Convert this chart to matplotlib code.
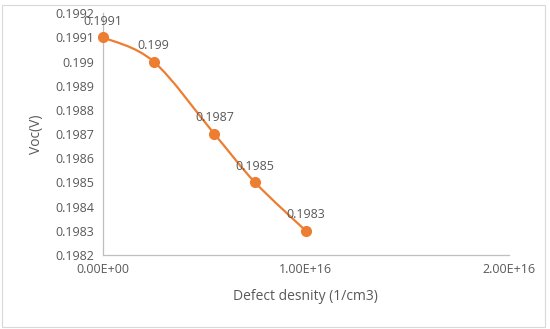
import matplotlib.pyplot as plt
from matplotlib.path import Path
from matplotlib.patches import PathPatch, Rectangle
from matplotlib.ticker import FuncFormatter
import numpy as np

defect = [0.0, 2.5e15, 5.5e15, 7.5e15, 1.0e16]
voc = [0.1991, 0.1990, 0.1987, 0.1985, 0.1983]
voc_labels = ['0.1991', '0.199', '0.1987', '0.1985', '0.1983']

orange = '#ED7D31'
grey_txt = '#595959'

plt.rcParams['font.family'] = ['Open Sans', 'DejaVu Sans']

fig = plt.figure(figsize=(5.5, 3.29), dpi=100)
ax = fig.add_axes([0.187, 0.225, 0.738, 0.735])

# Excel-style smoothed line: cubic bezier segments (Catmull-Rom tangents)
x = np.array(defect)
y = np.array(voc)
verts = [(x[0], y[0])]
codes = [Path.MOVETO]
n = len(x)
for i in range(n - 1):
    p0 = np.array([x[max(i - 1, 0)], y[max(i - 1, 0)]])
    p1 = np.array([x[i], y[i]])
    p2 = np.array([x[i + 1], y[i + 1]])
    p3 = np.array([x[min(i + 2, n - 1)], y[min(i + 2, n - 1)]])
    c1 = p1 + (p2 - p0) / 6
    c2 = p2 - (p3 - p1) / 6
    verts += [tuple(c1), tuple(c2), tuple(p2)]
    codes += [Path.CURVE4] * 3
ax.add_patch(PathPatch(Path(verts, codes), facecolor='none', edgecolor=orange, lw=1.6))

ax.plot(defect, voc, 'o', color=orange, markersize=7, zorder=3, clip_on=False)

for xi, yi, lab in zip(defect, voc, voc_labels):
    ax.annotate(lab, (xi, yi), xytext=(0, 7), textcoords='offset points',
                ha='center', va='bottom', fontsize=9, color=grey_txt)

ax.set_xlim(0, 2e16)
ax.set_ylim(0.1982, 0.1992)
ax.set_xticks([0, 1e16, 2e16])
ax.set_yticks(np.arange(0.1982, 0.19925, 0.0001))
ax.xaxis.set_major_formatter(FuncFormatter(lambda v, p: f'{v:.2E}'))
ax.yaxis.set_major_formatter(FuncFormatter(lambda v, p: f'{v:.4f}'.rstrip('0')))
ax.tick_params(length=0, labelsize=9, labelcolor=grey_txt, pad=6)

for s in ['top', 'right']:
    ax.spines[s].set_visible(False)
for s in ['left', 'bottom']:
    ax.spines[s].set_color('#bfbfbf')
    ax.spines[s].set_linewidth(0.9)

ax.set_xlabel('Defect desnity (1/cm3)', fontsize=10, color=grey_txt, labelpad=9)
ax.set_ylabel('Voc(V)', fontsize=10, color=grey_txt, labelpad=8)

fig.patches.append(Rectangle((0.004, 0.006), 0.986, 0.978, transform=fig.transFigure,
                             fill=False, edgecolor='#d9d9d9', lw=0.8))

fig.savefig('out.png', dpi=100)
